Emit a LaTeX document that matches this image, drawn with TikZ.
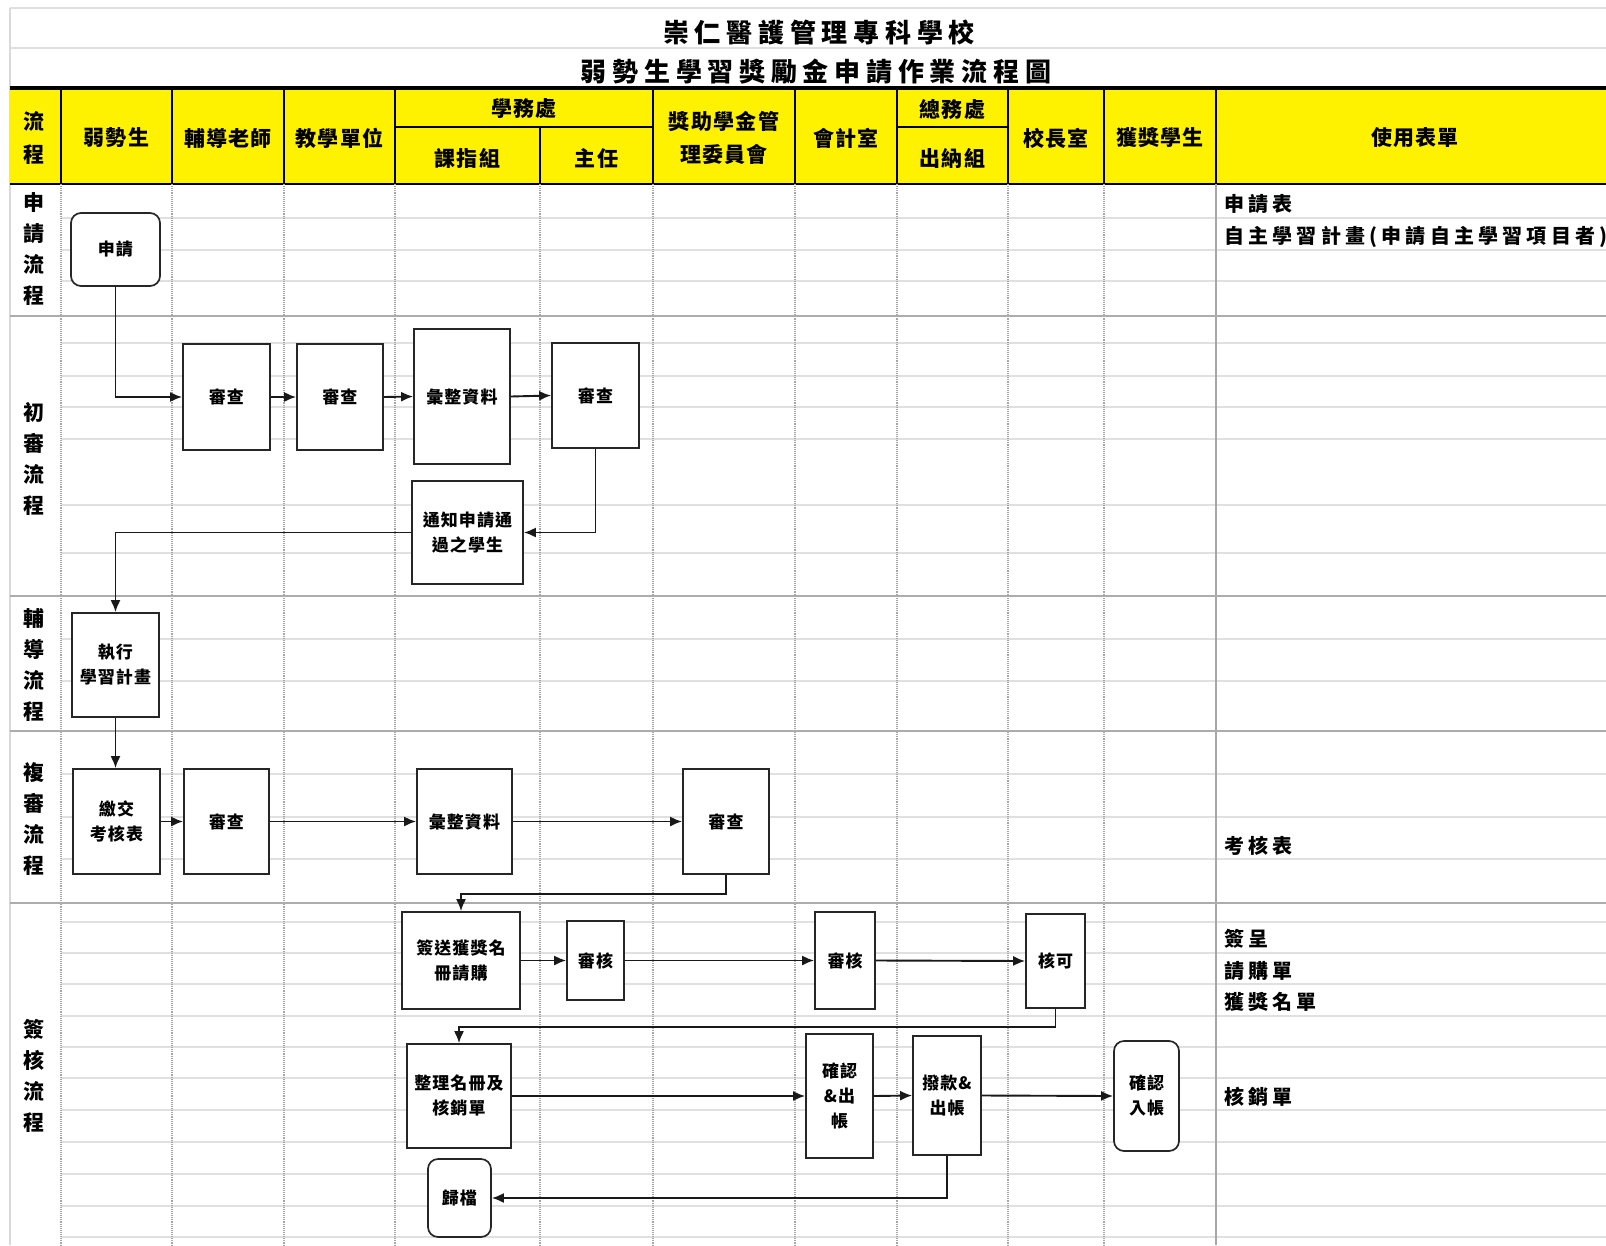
\documentclass[tikz,border=0pt]{standalone}
\usepackage{fontspec}
\setmainfont{Noto Sans CJK TC}
\newfontfamily\ttlfont{Noto Sans CJK TC}[LetterSpace=22]
\newfontfamily\lsfont{Noto Sans CJK TC}[LetterSpace=21]
\newfontfamily\hdfont{Noto Sans CJK TC}[LetterSpace=6]
\newfontfamily\bxfont{Noto Sans CJK TC}[LetterSpace=6]
\usetikzlibrary{arrows.meta}
\begin{document}
\begin{tikzpicture}[x=1pt,y=-1pt,
  box/.style={draw=black!85,line width=1.7pt,fill=white,align=center,inner sep=0pt,
    font=\bxfont\bfseries\fontsize{17}{25}\selectfont},
  rbox/.style={box,rounded corners=10pt},
  sz/.style 2 args={minimum width=#1pt,minimum height=#2pt},
  arr/.style={draw=black!90,line width=1.9pt,-{Latex[length=12pt,width=10pt]}},
  minor/.style={draw=gray!24,line width=1.6pt},
  secline/.style={draw=gray!65,line width=1.6pt},
  vline/.style={draw=gray!70,line width=1.1pt,densely dotted},
  hline/.style={draw=black,line width=1.1pt},
  hd/.style={align=center,inner sep=0pt,font=\hdfont\bfseries\fontsize{21}{33}\selectfont},
  sec/.style={align=center,inner sep=0pt,font=\hdfont\bfseries\fontsize{21}{31}\selectfont},
  ttl/.style={inner sep=0pt,font=\ttlfont\bfseries\fontsize{26}{30}\selectfont},
  form/.style={anchor=west,inner sep=0pt,font=\lsfont\bfseries\fontsize{20}{22}\selectfont}
]
\useasboundingbox[fill=white] (0,0) rectangle (1606,1245);

% title area
\draw[draw=gray!25,line width=1.2pt] (10,8) -- (1606,8);
\draw[draw=gray!25,line width=1.2pt] (10,48) -- (1606,48);
\draw[draw=gray!30,line width=1.2pt] (10,8) -- (10,1245);
\node[ttl] (t1) at (819,32) {崇仁醫護管理專科學校};
\node[ttl] (t2) at (816,72) {弱勢生學習獎勵金申請作業流程圖};

% header
\fill[yellow] (10,88) rectangle (1606,184);
\foreach \x in {61,172,284,395,653,795,897,1008,1104,1216}
  \draw[hline] (\x,88) -- (\x,184);
\draw[hline] (540,127) -- (540,184);
\draw[hline] (395,127) -- (653,127);
\draw[hline] (897,127) -- (1008,127);
\draw[hline] (10,184) -- (1606,184);
\draw[line width=3.2pt] (10,88) -- (1606,88);

\node[hd] (h0) at (34,138) {流\\程};
\node[hd] (h1) at (116.5,138) {弱勢生};
\node[hd] (h2) at (228,138) {輔導老師};
\node[hd] (h3) at (339.5,138) {教學單位};
\node[hd] (h4) at (524,109) {學務處};
\node[hd] (h4a) at (467.5,158) {課指組};
\node[hd] (h4b) at (596.5,158) {主任};
\node[hd] (h5) at (724,138) {獎助學金管\\理委員會};
\node[hd] (h6) at (846,138) {會計室};
\node[hd] (h7) at (952.5,109) {總務處};
\node[hd] (h7a) at (952.5,158) {出納組};
\node[hd] (h8) at (1056,138) {校長室};
\node[hd] (h9) at (1160,138) {獲獎學生};
\node[hd] (h10) at (1415,138) {使用表單};

% body grid
\foreach \y in {218,250,281,343,376,407,439,505,553,639,681,774,817,859,922,953,984,1016,1047,1078,1110,1142,1174,1206,1237}
  \draw[minor] (61,\y) -- (1606,\y);
\foreach \x in {61,172,284,395,540,653,795,897,1008,1104}
  \draw[vline] (\x,184) -- (\x,1245);
\draw[draw=gray!70,line width=1.3pt] (1216,184) -- (1216,1245);
\foreach \y in {316,596,731,903}
  \draw[secline] (10,\y) -- (1606,\y);

% section labels
\node[sec] (s1l) at (34,249) {申\\請\\流\\程};
\node[sec] (s2l) at (34,458.5) {初\\審\\流\\程};
\node[sec] (s3l) at (34,664.5) {輔\\導\\流\\程};
\node[sec] (s4l) at (34,818.5) {複\\審\\流\\程};
\node[sec] (s5l) at (34,1075.5) {簽\\核\\流\\程};

% forms
\node[form] (f1) at (1224,204) {申請表};
\node[form] (f2) at (1224,237) {自主學習計畫(申請自主學習項目者)};
\node[form] (f3) at (1224,846) {考核表};
\node[form] (f4) at (1224,939) {簽呈};
\node[form] (f5) at (1224,971) {請購單};
\node[form] (f6) at (1224,1002) {獲獎名單};
\node[form] (f7) at (1224,1097) {核銷單};

% nodes
\node[rbox,sz={89}{73}] (apply) at (115.5,249.5) {申請};
\node[box,sz={87}{106}] (r1) at (226.5,397) {審查};
\node[box,sz={86}{106}] (r2) at (340,397) {審查};
\node[box,sz={96}{135}] (c1) at (462,396.5) {彙整資料};
\node[box,sz={87}{105}] (d1) at (595.5,395.5) {審查};
\node[box,sz={111}{103}] (notify) at (467.5,532.5) {通知申請通\\過之學生};
\node[box,sz={87}{104}] (exec) at (115.5,665) {執行\\學習計畫};
\node[box,sz={87}{105}] (submit) at (116.5,821.5) {繳交\\考核表};
\node[box,sz={85}{105}] (r3) at (226.5,821.5) {審查};
\node[box,sz={95}{105}] (c2) at (464.5,821.5) {彙整資料};
\node[box,sz={86}{105}] (s1) at (726,821.5) {審查};
\node[box,sz={118}{97}] (sign) at (461,960.5) {簽送獲獎名\\冊請購};
\node[box,sz={57}{79}] (a1) at (595.5,960.5) {審核};
\node[box,sz={60}{97}] (a2) at (845,960.5) {審核};
\node[box,sz={59}{94}] (ok) at (1055.5,961) {核可};
\node[box,sz={104}{104}] (org) at (459,1096) {整理名冊及\\核銷單};
\node[box,sz={67}{124}] (conf) at (839.5,1096) {確認\\\&出\\帳};
\node[box,sz={68}{119}] (pay) at (947,1095.5) {撥款\&\\出帳};
\node[rbox,sz={65}{110}] (recv) at (1146.5,1096) {確認\\入帳};
\node[rbox,sz={63}{78}] (file) at (459.5,1198) {歸檔};

% connectors
\draw[arr] (apply.south) |- (r1.west);
\draw[arr] (r1.east) -- (r2.west);
\draw[arr] (r2.east) -- (c1.west);
\draw[arr] (c1.east) -- (d1.west);
\draw[arr] (d1.south) |- (notify.east);
\draw[arr] (notify.west) -| (exec.north);
\draw[arr] (exec.south) -- (exec.south |- submit.north);
\draw[arr] (submit.east) -- (r3.west);
\draw[arr] (r3.east) -- (c2.west);
\draw[arr] (c2.east) -- (s1.west);
\draw[arr] (s1.south) -- ++(0,19) -| (sign.north);
\draw[arr] (sign.east) -- (a1.west);
\draw[arr] (a1.east) -- (a2.west);
\draw[arr] (a2.east) -- (ok.west);
\draw[arr] (ok.south) -- ++(0,18) -| (org.north);
\draw[arr] (org.east) -- (conf.west);
\draw[arr] (conf.east) -- (pay.west);
\draw[arr] (pay.east) -- (recv.west);
\draw[arr] (pay.south) |- (file.east);
\end{tikzpicture}
\end{document}
